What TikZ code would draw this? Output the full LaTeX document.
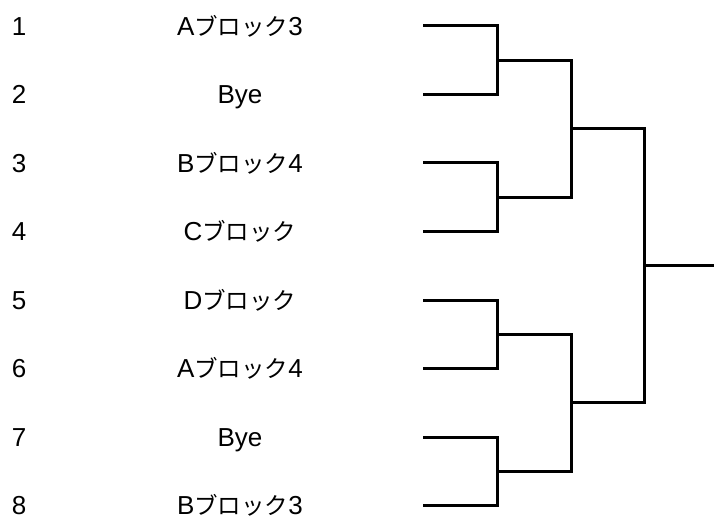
\documentclass[tikz,border=0pt]{standalone}
\usepackage{fontspec}
\setmainfont{Liberation Sans}
\newfontfamily\jpfont{Noto Sans CJK JP}
\newcommand{\kana}[1]{{\jpfont\fontsize{23.5}{26}\selectfont #1}}
\begin{document}
\begin{tikzpicture}[x=1pt,y=-1pt,
  lbl/.style={inner sep=0pt,anchor=base,font=\fontsize{26}{30}\selectfont},
  bracket/.style={line width=3pt,line join=miter,line cap=rect}]
\useasboundingbox (0,0) rectangle (714,521);
% rows
\foreach \i/\txt in {1/A\kana{ブロック}3,2/Bye,3/B\kana{ブロック}4,4/C\kana{ブロック},5/D\kana{ブロック},6/A\kana{ブロック}4,7/Bye,8/B\kana{ブロック}3}{
  \pgfmathsetmacro{\yy}{26+68.5*(\i-1)}
  \pgfmathsetmacro{\yb}{\yy+9.3}
  \node[lbl] (n\i) at (19,\yb) {\i};
  \node[lbl] (t\i) at (240,\yb) {\txt};
  \coordinate (a\i) at (424,\yy);
}
% round 1 joins
\coordinate (j1) at (497,60.25);
\coordinate (j2) at (497,197.25);
\coordinate (j3) at (497,334.25);
\coordinate (j4) at (497,471.25);
% round 2 joins
\coordinate (k1) at (571,128.75);
\coordinate (k2) at (571,402.75);
% final join
\coordinate (f) at (644,265.75);
\coordinate (w) at (714,265.75);
\draw[bracket] (a1) -| (j1) |- (a2);
\draw[bracket] (a3) -| (j2) |- (a4);
\draw[bracket] (a5) -| (j3) |- (a6);
\draw[bracket] (a7) -| (j4) |- (a8);
\draw[bracket] (j1) -| (k1) |- (j2);
\draw[bracket] (j3) -| (k2) |- (j4);
\draw[bracket] (k1) -| (f) |- (k2);
\draw[bracket] (f) -- (w);
\end{tikzpicture}
\end{document}
